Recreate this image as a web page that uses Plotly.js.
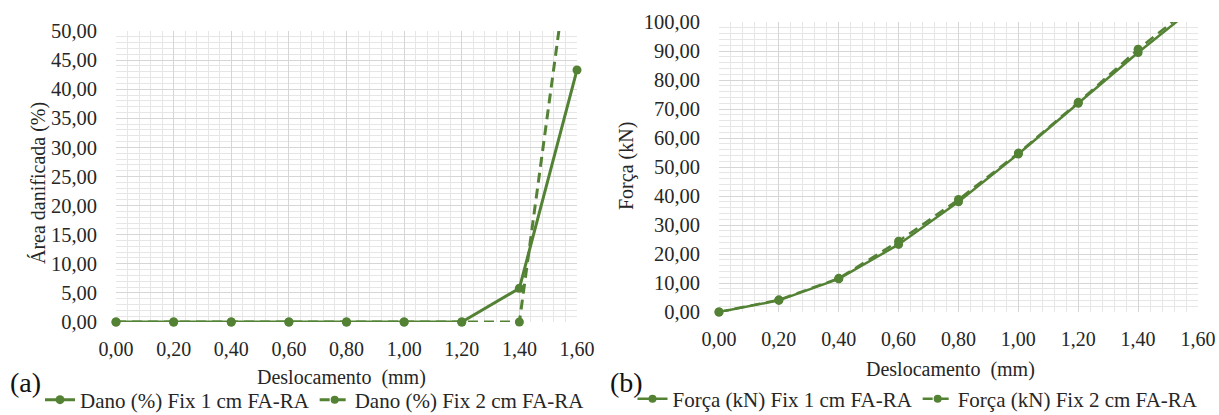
<!DOCTYPE html>
<html>
<head>
<meta charset="utf-8">
<script src="https://cdn.plot.ly/plotly-3.0.1.min.js"></script>
<style>html,body{margin:0;padding:0;background:#fff;}#chart{width:1219px;height:415px;}</style>
</head>
<body>
<div id="chart"></div>
<script>
// Data
const deslocamento = [0.0, 0.2, 0.4, 0.6, 0.8, 1.0, 1.2, 1.4, 1.6];
const danoFix1 = [0, 0, 0, 0, 0, 0, 0, 5.8, 43.3];
const danoFix2 = [0, 0, 0, 0, 0, 0, 0, 0, 73];
const forcaFix1 = [0, 4.0, 11.4, 23.3, 38.0, 54.5, 72.0, 89.5, 106];
const forcaFix2 = [0, 4.2, 11.6, 24.4, 38.8, 54.8, 72.3, 90.6, 107];
const nameDano1 = 'Dano (%) Fix 1 cm FA-RA';
const nameDano2 = 'Dano (%) Fix 2 cm FA-RA';
const nameForca1 = 'Força (kN) Fix 1 cm FA-RA';
const nameForca2 = 'Força (kN) Fix 2 cm FA-RA';

const green = '#548235';
const font = 'Liberation Serif';
const txt = '#262626';

// hide markers that fall outside the visible range (line still drawn and clipped)
function mk(vals, max) {
  return {color: green, opacity: 1, line: {width: 0}, size: vals.map(v => (v > max ? 0 : 9))};
}

const traces = [
  {x: deslocamento, y: danoFix1, name: nameDano1, type: 'scatter', mode: 'lines+markers', cliponaxis: false,
   line: {color: green, width: 3}, marker: mk(danoFix1, 50), xaxis: 'x', yaxis: 'y', legend: 'legend'},
  {x: deslocamento, y: danoFix2, name: nameDano2, type: 'scatter', mode: 'lines+markers', cliponaxis: false,
   line: {color: green, width: 3, dash: '10px,6px'}, marker: mk(danoFix2, 50), xaxis: 'x', yaxis: 'y', legend: 'legend'},
  {x: deslocamento, y: forcaFix1, name: nameForca1, type: 'scatter', mode: 'lines+markers', cliponaxis: false,
   line: {color: green, width: 2.5}, marker: mk(forcaFix1, 100), xaxis: 'x2', yaxis: 'y2', legend: 'legend2'},
  {x: deslocamento, y: forcaFix2, name: nameForca2, type: 'scatter', mode: 'lines+markers', cliponaxis: false,
   line: {color: green, width: 2.5, dash: '10px,6px'}, marker: mk(forcaFix2, 100), xaxis: 'x2', yaxis: 'y2', legend: 'legend2'}
];

function xax(domain, anchor) {
  return {domain: domain, anchor: anchor, range: [0, 1.6], dtick: 0.2, tick0: 0, tickformat: '.2f',
    showgrid: true, gridcolor: '#d6d6d6', gridwidth: 1, zeroline: false, showline: false,
    minor: {dtick: 0.04, showgrid: true, gridcolor: '#e6e6e6', gridwidth: 1},
    tickfont: {family: font, size: 20, color: txt}, ticks: '', ticklabelstandoff: 13, fixedrange: true};
}
function yax(domain, anchor, max, dt) {
  return {domain: domain, anchor: anchor, range: [0, max], dtick: dt, tick0: 0, tickformat: '.2f',
    showgrid: true, gridcolor: '#d6d6d6', gridwidth: 1, zeroline: false, showline: false,
    minor: {dtick: dt / 5, showgrid: true, gridcolor: '#e6e6e6', gridwidth: 1},
    tickfont: {family: font, size: 20.5, color: txt}, ticks: '', ticklabelstandoff: 18, fixedrange: true};
}

const layout = {
  width: 1219, height: 415,
  margin: {l: 0, r: 0, t: 0, b: 0, autoexpand: false},
  paper_bgcolor: '#fff', plot_bgcolor: '#fff',
  separators: ',.',
  font: {family: font, color: txt, size: 20},
  xaxis: xax([116/1219, 577/1219], 'y'),
  yaxis: yax([1 - 322/415, 1 - 31/415], 'x', 50, 5),
  xaxis2: xax([719/1219, 1198/1219], 'y2'),
  yaxis2: yax([1 - 312/415, 1 - 22/415], 'x2', 100, 10),
  legend: {orientation: 'h', x: 315/1219, xanchor: 'center', y: 1 - 400/415, yanchor: 'middle',
    font: {family: font, size: 21, color: txt}, bgcolor: 'rgba(0,0,0,0)'},
  legend2: {orientation: 'h', x: 918/1219, xanchor: 'center', y: 1 - 399/415, yanchor: 'middle',
    font: {family: font, size: 21, color: txt}, bgcolor: 'rgba(0,0,0,0)'},
  annotations: [
    {text: 'Área danificada (%)', textangle: -90, xref: 'paper', yref: 'paper', x: 38/1219, y: 1 - 183/415,
     xanchor: 'center', yanchor: 'middle', showarrow: false, font: {family: font, size: 20, color: txt}},
    {text: 'Força (kN)', textangle: -90, xref: 'paper', yref: 'paper', x: 626/1219, y: 1 - 166/415,
     xanchor: 'center', yanchor: 'middle', showarrow: false, font: {family: font, size: 20, color: txt}},
    {text: 'Deslocamento  (mm)', xref: 'paper', yref: 'paper', x: 341/1219, y: 1 - 377/415,
     xanchor: 'center', yanchor: 'middle', showarrow: false, font: {family: font, size: 20, color: txt}},
    {text: 'Deslocamento  (mm)', xref: 'paper', yref: 'paper', x: 950/1219, y: 1 - 369/415,
     xanchor: 'center', yanchor: 'middle', showarrow: false, font: {family: font, size: 20, color: txt}},
    {text: '(a)', xref: 'paper', yref: 'paper', x: 8/1219, y: 1 - 382/415,
     xanchor: 'left', yanchor: 'middle', showarrow: false, font: {family: font, size: 28, color: '#111'}},
    {text: '(b)', xref: 'paper', yref: 'paper', x: 608/1219, y: 1 - 382/415,
     xanchor: 'left', yanchor: 'middle', showarrow: false, font: {family: font, size: 28, color: '#111'}}
  ],
  showlegend: true
};

Plotly.newPlot('chart', traces, layout, {staticPlot: true, displayModeBar: false});
</script>
</body>
</html>
